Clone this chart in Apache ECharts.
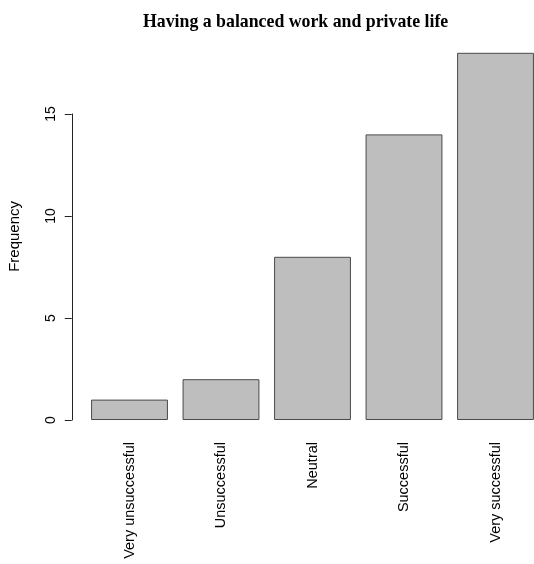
<!DOCTYPE html>
<html>
<head>
<meta charset="utf-8">
<script src="https://cdn.jsdelivr.net/npm/echarts@6/dist/echarts.min.js"></script>
<style>
html,body{margin:0;padding:0;background:#fff;}
#chart{width:534px;height:564px;}
</style>
</head>
<body>
<div id="chart"></div>
<script>
const categories = ['Very unsuccessful', 'Unsuccessful', 'Neutral', 'Successful', 'Very successful'];
const frequency = [1, 2, 8, 14, 18];
const chartTitle = 'Having a balanced work and private life';
const yName = 'Frequency';

const chart = echarts.init(document.getElementById('chart'), null, {renderer: 'canvas'});
const font = 'Liberation Sans, Arial, sans-serif';
chart.setOption({
  backgroundColor: '#fff',
  animation: false,
  title: {
    text: chartTitle,
    left: 138,
    top: 8,
    textStyle: {fontFamily: 'Liberation Serif, Times New Roman, serif', fontWeight: 'bold', fontSize: 17.8, color: '#000'}
  },
  grid: [
    {left: 83.75, width: 457.5, top: 52.8, bottom: 144, outerBoundsMode: 'none', containLabel: false},
    {left: 83.75, width: 457.5, top: 114, bottom: 144, outerBoundsMode: 'none', containLabel: false}
  ],
  xAxis: [
    {
      gridIndex: 0, type: 'category', data: categories,
      axisLine: {show: false}, axisTick: {show: false},
      axisLabel: {rotate: 90, fontSize: 14.5, margin: 22, color: '#000', fontFamily: font, interval: 0}
    },
    {gridIndex: 1, type: 'category', data: categories, show: false}
  ],
  yAxis: [
    {
      gridIndex: 0, type: 'value', min: 0, max: 18,
      axisLine: {show: false}, axisTick: {show: false}, axisLabel: {show: false}, splitLine: {show: false},
      name: yName, nameLocation: 'middle', nameGap: 61,
      nameTextStyle: {fontSize: 15, color: '#000', fontFamily: font}
    },
    {
      gridIndex: 1, type: 'value', min: 0, max: 15, interval: 5, offset: 12,
      axisLine: {show: true, lineStyle: {color: '#222', width: 1}},
      axisTick: {show: true, length: 7, lineStyle: {color: '#222', width: 1}},
      axisLabel: {rotate: 90, fontSize: 14, margin: 14, color: '#000', fontFamily: font},
      splitLine: {show: false}
    }
  ],
  series: [{
    type: 'bar',
    xAxisIndex: 0, yAxisIndex: 0,
    data: frequency,
    barCategoryGap: '16%',
    itemStyle: {color: '#bebebe', borderColor: '#4a4a4a', borderWidth: 1}
  }]
});
</script>
</body>
</html>
